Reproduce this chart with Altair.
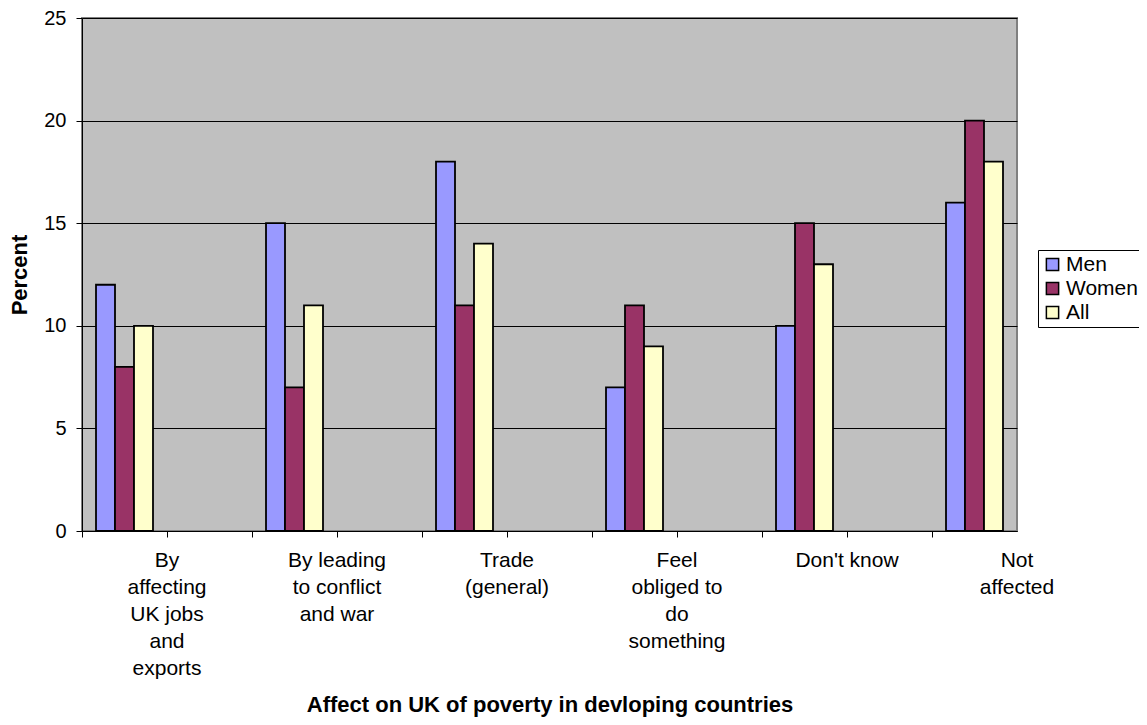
import altair as alt
import pandas as pd

# Categories (with "|" marking line breaks in the axis labels)
categories = [
    "By|affecting|UK jobs|and|exports",
    "By leading|to conflict|and war",
    "Trade|(general)",
    "Feel|obliged to|do|something",
    "Don't know",
    "Not|affected",
]
men = [12, 15, 18, 7, 10, 16]
women = [8, 7, 11, 11, 15, 20]
all_ = [10, 11, 14, 9, 13, 18]
series = ["Men", "Women", "All"]
colors = ["#9999FF", "#993366", "#FFFFCC"]

# Category slots: real categories separated by empty slots (as in the original chart)
slots = []
for i, c in enumerate(categories):
    slots.append(c)
    if i < len(categories) - 1:
        slots.append(f"gap{i}")

rows = []
for c, m, w, a in zip(categories, men, women, all_):
    rows.append({"cat": c, "series": "Men", "value": m})
    rows.append({"cat": c, "series": "Women", "value": w})
    rows.append({"cat": c, "series": "All", "value": a})
df = pd.DataFrame(rows)

FONT = "Liberation Sans"

bars = alt.Chart(df).mark_bar(stroke="black", strokeWidth=1.8).encode(
    x=alt.X(
        "cat:N",
        sort=slots,
        scale=alt.Scale(domain=slots, paddingInner=0, paddingOuter=0),
        axis=alt.Axis(
            title="Affect on UK of poverty in devloping countries",
            labelExpr="indexof(datum.value, 'gap') == 0 ? '' : split(datum.value, '|')",
            labelAngle=0,
            labelAlign="center",
            labelBaseline="top",
            labelLineHeight=27,
            labelFontSize=21,
            labelFont=FONT,
            labelColor="black",
            labelPadding=12,
            labelOffset=42.5,
            bandPosition=0,
            tickSize=6,
            tickColor="black",
            domainColor="black",
            domainWidth=1,
            titleFont=FONT,
            titleFontSize=22,
            titleFontWeight="bold",
            titleColor="black",
            titlePadding=16,
            grid=False,
            labelOverlap=False,
        ),
    ),
    xOffset=alt.XOffset(
        "series:N",
        sort=series,
        scale=alt.Scale(domain=series, paddingInner=0, paddingOuter=0.737),
    ),
    y=alt.Y(
        "value:Q",
        scale=alt.Scale(domain=[0, 25], nice=False),
        axis=alt.Axis(
            title="Percent",
            values=[0, 5, 10, 15, 20, 25],
            tickSize=6,
            tickColor="black",
            domainColor="black",
            labelFontSize=20,
            labelFont=FONT,
            labelColor="black",
            labelPadding=10,
            gridColor="black",
            gridWidth=1,
            titleFont=FONT,
            titleFontSize=22,
            titleFontWeight="bold",
            titleColor="black",
            titlePadding=12,
        ),
    ),
    color=alt.Color(
        "series:N",
        sort=series,
        scale=alt.Scale(domain=series, range=colors),
        legend=alt.Legend(
            title=None,
            orient="none",
            legendX=956,
            legendY=232,
            strokeColor="black",
            fillColor="white",
            padding=4,
            symbolType="square",
            symbolSize=150,
            symbolStrokeColor="black",
            symbolStrokeWidth=1.5,
            labelFontSize=21,
            labelFont=FONT,
            labelColor="black",
            labelOffset=3,
            rowPadding=2,
            cornerRadius=0,
        ),
    ),
)

chart = bars.properties(
    width=935,
    height=513,
    autosize=alt.AutoSizeParams(type="none"),
    padding={"left": 74, "top": 10, "right": 122, "bottom": 188},
    background="white",
).configure_view(
    fill="#C0C0C0",
    stroke="#808080",
    strokeWidth=2,
)

chart.save("out.html", embed_options={"renderer": "svg", "actions": False})
